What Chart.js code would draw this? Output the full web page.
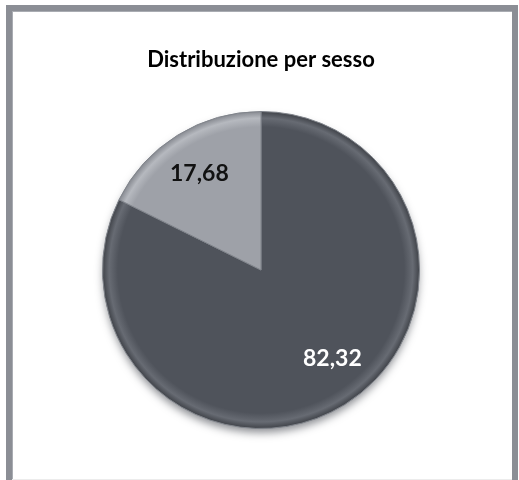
<!DOCTYPE html>
<html>
<head>
<meta charset="utf-8">
<script src="https://cdn.jsdelivr.net/npm/chart.js@4/dist/chart.umd.min.js"></script>
<style>
  html, body { margin: 0; padding: 0; background: #ffffff; }
  body { width: 519px; height: 480px; position: relative; overflow: hidden; }
  #frame {
    position: absolute; left: 6px; top: 5px; width: 500px; height: 480px;
    border-left: 6px solid #8b8e95; border-top: 6px solid #8b8e95; border-right: 6px solid #8b8e95;
    box-shadow: inset 1px 1px 0 #a9acb2;
  }
  #bottomline { position: absolute; left: 12px; top: 479px; width: 500px; height: 1px; background: #ececec; }
  #wrap { position: absolute; left: 0; top: 0; width: 519px; height: 480px; }
</style>
</head>
<body>
<div id="frame"></div>
<div id="bottomline"></div>
<div id="wrap"><canvas id="c" width="519" height="480"></canvas></div>
<script>
const titleText = "Distribuzione per sesso";
const categories = ["Maschi", "Femmine"];
const values = [82.32, 17.68];
const valueLabels = ["82,32", "17,68"];
const sliceColors = ["#4f535b", "#9ea1a8"];
const rimLight = ["#676b73", "#b6b9bf"];
const rimDark = ["#3d4046", "#83868d"];
const labelColors = ["#ffffff", "#111111"];

function sliceFill(ctx) {
  const i = ctx.dataIndex;
  const chart = ctx.chart;
  const a = chart.chartArea;
  if (!a || !a.width) return sliceColors[i];
  const cx = (a.left + a.right) / 2, cy = (a.top + a.bottom) / 2;
  const r = Math.min(a.width, a.height) / 2;
  const g = chart.ctx.createRadialGradient(cx, cy, 0, cx, cy, r);
  g.addColorStop(0, sliceColors[i]);
  g.addColorStop(0.9, sliceColors[i]);
  g.addColorStop(0.955, rimLight[i]);
  g.addColorStop(1, rimDark[i]);
  return g;
}

const shadowPlugin = {
  id: 'pieShadow',
  beforeDatasetsDraw(chart) {
    const arc = chart.getDatasetMeta(0).data[0];
    if (!arc) return;
    const ctx = chart.ctx;
    ctx.save();
    ctx.shadowColor = 'rgba(40,44,52,0.55)';
    ctx.shadowBlur = 9;
    ctx.shadowOffsetY = 5;
    ctx.beginPath();
    ctx.arc(arc.x, arc.y, arc.outerRadius - 1, 0, Math.PI * 2);
    ctx.fillStyle = '#4f535b';
    ctx.fill();
    ctx.restore();
  }
};

const labelShift = [-0.12, -0.015];
const labelPlugin = {
  id: 'sliceLabels',
  afterDatasetsDraw(chart) {
    const ctx = chart.ctx;
    const meta = chart.getDatasetMeta(0);
    ctx.save();
    ctx.font = "bold 23px Lato";
    ctx.textAlign = 'center';
    ctx.textBaseline = 'middle';
    meta.data.forEach((arc, i) => {
      const mid = (arc.startAngle + arc.endAngle) / 2 + labelShift[i];
      const r = arc.outerRadius * 0.72;
      ctx.fillStyle = labelColors[i];
      ctx.fillText(valueLabels[i], arc.x + Math.cos(mid) * r, arc.y + Math.sin(mid) * r);
    });
    ctx.restore();
  }
};

new Chart(document.getElementById('c'), {
  type: 'pie',
  data: {
    labels: categories,
    datasets: [{
      data: values,
      backgroundColor: sliceFill,
      borderColor: '#80848b',
      borderWidth: 1
    }]
  },
  options: {
    responsive: false,
    animation: false,
    layout: { padding: { top: 0, bottom: 51, left: 102, right: 99 } },
    plugins: {
      legend: { display: false },
      tooltip: { enabled: false },
      title: {
        display: true,
        text: titleText,
        color: '#000000',
        font: { family: 'Lato', size: 22, weight: 'bold', lineHeight: 1.2 },
        padding: { top: 47, bottom: 37.6 }
      }
    }
  },
  plugins: [shadowPlugin, labelPlugin]
});
</script>
</body>
</html>
